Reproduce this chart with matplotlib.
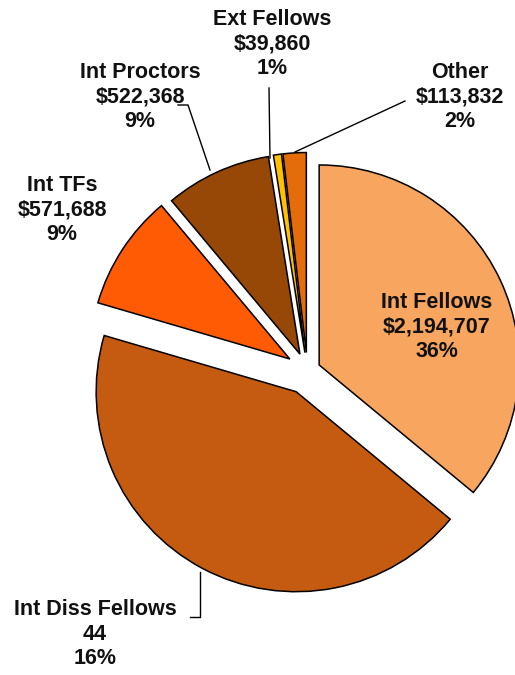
import matplotlib
matplotlib.use('Agg')
import matplotlib.pyplot as plt

# slices, clockwise from 12 o'clock
names = ['Int Fellows', 'Int Diss Fellows', 'Int TFs', 'Int Proctors', 'Ext Fellows', 'Other']
values = [2194707, 2654000, 571688, 522368, 39860, 113832]
value_labels = ['$2,194,707', '44', '$571,688', '$522,368', '$39,860', '$113,832']
pct_labels = ['36%', '16%', '9%', '9%', '1%', '2%']
colors = ['#F7A55F', '#C55A11', '#FF5B05', '#974706', '#FFC000', '#E46C0A']
explode = [0.065, 0.12, 0.105, 0.09, 0.09, 0.09]

W, H = 515, 675
R = 200
fig = plt.figure(figsize=(W / 100, H / 100), dpi=100)
ax = fig.add_axes([0, 0, 1, 1])

# work in pixel coords, y measured from the top of the picture
def py(y):
    return H - y

# matplotlib's explode is in data units, so scale by the radius
ax.pie(values, colors=colors, explode=[e * R for e in explode], startangle=90,
       counterclock=False, center=(307.4, py(370.5)), radius=R,
       wedgeprops=dict(edgecolor='black', linewidth=1.1))

ax.set_xlim(0, W)
ax.set_ylim(0, H)
ax.set_aspect('equal')
ax.axis('off')

font = dict(family=['Liberation Sans', 'DejaVu Sans'], fontsize=15.5, fontweight='bold',
            color='#111111', ha='center', va='center', linespacing=1.2)

label_pos = {
    'Int Fellows': (437, 327),
    'Int Diss Fellows': (95, 634),
    'Int TFs': (62, 210),
    'Int Proctors': (140, 97),
    'Ext Fellows': (272, 44),
    'Other': (460, 97),
}
for n, v, p in zip(names, value_labels, pct_labels):
    x, y = label_pos[n]
    ax.text(x, py(y), f'{n}\n{v}\n{p}', **font)

# leader lines
lk = dict(color='black', linewidth=1.0)
ax.plot([269, 270], [py(88), py(158)], **lk)
ax.plot([295, 405], [py(152), py(101)], **lk)
ax.plot([178, 188, 210], [py(105), py(105), py(170)], **lk)
ax.plot([190, 200, 200], [py(617), py(617), py(572)], **lk)

fig.savefig('out.png', dpi=100)
